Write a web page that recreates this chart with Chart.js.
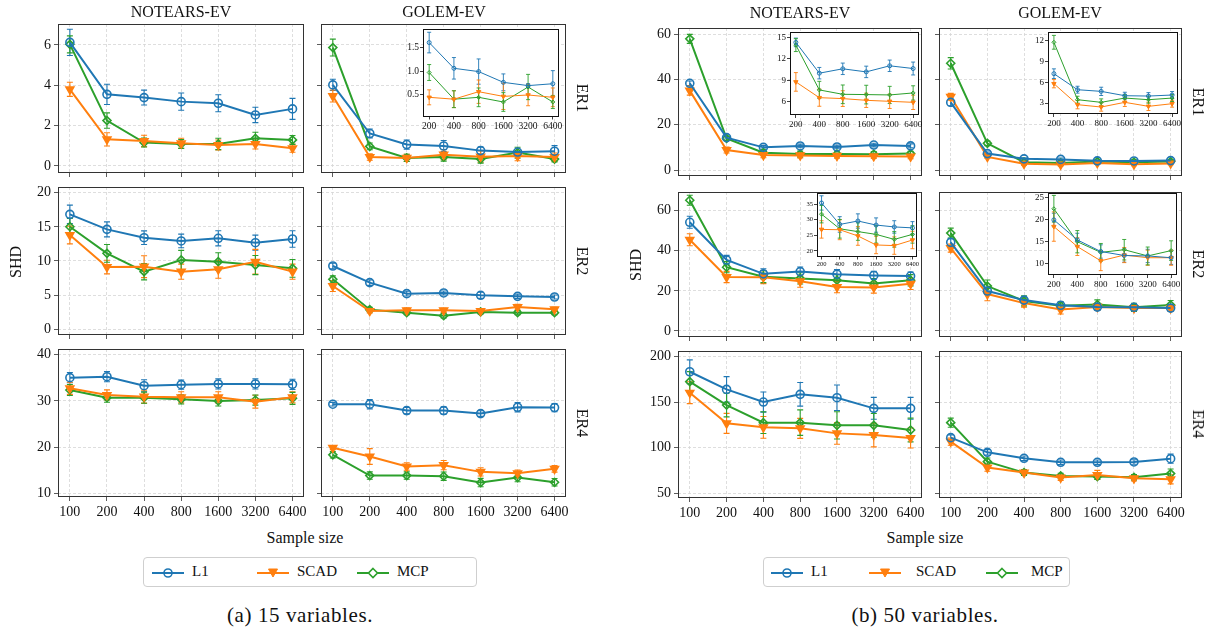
<!DOCTYPE html>
<html>
<head>
<meta charset="utf-8">
<script src="https://cdn.jsdelivr.net/npm/chart.js@4.4.1/dist/chart.umd.min.js"></script>
<style>
  body { margin: 0; background: #fff; width: 1215px; height: 630px; position: relative; overflow: hidden; font-family: "Liberation Serif", "DejaVu Serif", serif; color: #111; }
  canvas { position: absolute; }
  .t { position: absolute; white-space: nowrap; transform: translate(-50%, -50%); font-size: 16px; }
  .leg { position: absolute; border: 1px solid #cfcfcf; border-radius: 4px; height: 30px; box-sizing: border-box; }
  .leg span { position: absolute; top: 5px; font-size: 15px; }
  .leg svg { position: absolute; top: 8px; }
</style>
</head>
<body>
<script>
const sizes = ['100', '200', '400', '800', '1600', '3200', '6400'];
const methods = ['L1', 'SCAD', 'MCP'];
const colors = ['#1f77b4', '#ff7f0e', '#2ca02c'];

// y tick values per row
const yTicksA = [[0, 2, 4, 6], [0, 5, 10, 15, 20], [10, 20, 30, 40]];
const yTicksB = [[0, 20, 40, 60], [0, 20, 40, 60], [50, 100, 150, 200]];
const insetTicks_a_gl_er1 = [0.5, 1.0, 1.5];
const insetTicks_b_nt_er1 = [6, 9, 12, 15];
const insetTicks_b_gl_er1 = [3, 6, 9, 12];
const insetTicks_b_nt_er2 = [20, 25, 30, 35];
const insetTicks_b_gl_er2 = [10, 15, 20, 25];

// (a) 15 variables -- means and error bar half-lengths
const a_nt_er1_l1 = [6.13, 3.55, 3.39, 3.19, 3.11, 2.53, 2.83];
const a_nt_er1_l1_sd = [0.65, 0.5, 0.37, 0.43, 0.42, 0.38, 0.52];
const a_nt_er1_scad = [3.80, 1.32, 1.24, 1.12, 1.04, 1.09, 0.88];
const a_nt_er1_scad_sd = [0.35, 0.33, 0.28, 0.25, 0.25, 0.25, 0.2];
const a_nt_er1_mcp = [6.03, 2.25, 1.16, 1.09, 1.09, 1.37, 1.29];
const a_nt_er1_mcp_sd = [0.42, 0.38, 0.22, 0.22, 0.28, 0.3, 0.22];

const a_gl_er1_l1 = [4.02, 1.61, 1.06, 0.99, 0.76, 0.69, 0.73];
const a_gl_er1_l1_sd = [0.28, 0.22, 0.23, 0.27, 0.18, 0.04, 0.28];
const a_gl_er1_scad = [3.47, 0.44, 0.40, 0.56, 0.46, 0.49, 0.44];
const a_gl_er1_scad_sd = [0.3, 0.16, 0.18, 0.25, 0.28, 0.23, 0.2];
const a_gl_er1_mcp = [5.87, 0.97, 0.40, 0.44, 0.34, 0.66, 0.34];
const a_gl_er1_mcp_sd = [0.42, 0.17, 0.18, 0.2, 0.2, 0.27, 0.14];

const a_nt_er2_l1 = [16.83, 14.63, 13.41, 12.93, 13.32, 12.68, 13.22];
const a_nt_er2_l1_sd = [1.35, 1.1, 1.0, 1.0, 1.1, 1.1, 1.2];
const a_nt_er2_scad = [13.80, 9.12, 9.17, 8.44, 8.78, 9.90, 8.44];
const a_nt_er2_scad_sd = [1.3, 1.0, 1.6, 1.1, 1.3, 1.8, 1.1];
const a_nt_er2_mcp = [15.02, 11.12, 8.44, 10.15, 9.90, 9.41, 8.93];
const a_nt_er2_mcp_sd = [1.2, 1.3, 1.2, 1.4, 1.3, 1.4, 1.3];

const a_gl_er2_l1 = [9.27, 6.83, 5.22, 5.32, 4.98, 4.83, 4.73];
const a_gl_er2_l1_sd = [0.4, 0.4, 0.35, 0.3, 0.45, 0.3, 0.3];
const a_gl_er2_scad = [6.34, 2.68, 2.78, 2.78, 2.68, 3.27, 2.93];
const a_gl_er2_scad_sd = [0.8, 0.3, 0.35, 0.3, 0.3, 0.4, 0.3];
const a_gl_er2_mcp = [7.32, 2.88, 2.44, 2.0, 2.54, 2.44, 2.44];
const a_gl_er2_mcp_sd = [0.5, 0.35, 0.3, 0.35, 0.3, 0.3, 0.3];

const a_nt_er4_l1 = [35.03, 35.24, 33.29, 33.51, 33.66, 33.66, 33.58];
const a_nt_er4_l1_sd = [1.1, 1.1, 1.3, 1.0, 1.1, 1.1, 1.1];
const a_nt_er4_scad = [32.72, 31.28, 30.92, 30.77, 30.77, 29.83, 30.77];
const a_nt_er4_scad_sd = [1.3, 1.1, 1.4, 1.2, 1.2, 1.4, 1.2];
const a_nt_er4_mcp = [32.36, 30.70, 30.70, 30.34, 29.98, 30.19, 30.55];
const a_nt_er4_mcp_sd = [1.2, 1.0, 1.2, 1.0, 1.1, 1.1, 1.3];

const a_gl_er4_l1 = [29.28, 29.28, 27.9, 27.9, 27.25, 28.62, 28.55];
const a_gl_er4_l1_sd = [0.4, 1.0, 0.7, 0.8, 0.6, 1.0, 0.9];
const a_gl_er4_scad = [19.86, 17.97, 15.8, 16.09, 14.64, 14.35, 15.29];
const a_gl_er4_scad_sd = [0.4, 1.7, 0.8, 1.0, 0.9, 0.7, 0.7];
const a_gl_er4_mcp = [18.33, 13.84, 13.84, 13.7, 12.32, 13.41, 12.39];
const a_gl_er4_mcp_sd = [0.7, 0.8, 0.8, 0.9, 0.9, 0.9, 0.8];

// (b) 50 variables
const b_nt_er1_l1 = [38.35, 14.32, 10.02, 10.63, 10.2, 11.05, 10.67];
const b_nt_er1_l1_sd = [1.0, 0.6, 0.8, 0.8, 0.8, 0.8, 0.9];
const b_nt_er1_scad = [35.1, 8.8, 6.6, 6.47, 6.23, 6.09, 5.95];
const b_nt_er1_scad_sd = [2.0, 1.3, 1.2, 1.1, 1.0, 1.0, 1.0];
const b_nt_er1_mcp = [58.0, 13.94, 7.68, 7.07, 7.03, 6.98, 7.26];
const b_nt_er1_mcp_sd = [2.0, 0.9, 1.2, 1.3, 1.3, 1.2, 1.0];

const b_gl_er1_l1 = [29.9, 7.25, 4.93, 4.69, 4.06, 4.01, 4.16];
const b_gl_er1_l1_sd = [1.5, 0.7, 0.5, 0.6, 0.5, 0.5, 0.5];
const b_gl_er1_scad = [32.4, 5.8, 2.76, 2.42, 3.1, 2.52, 2.9];
const b_gl_er1_scad_sd = [1.5, 0.6, 0.6, 0.6, 0.6, 0.6, 0.5];
const b_gl_er1_mcp = [47.2, 11.8, 3.48, 3.1, 3.72, 3.48, 3.72];
const b_gl_er1_mcp_sd = [2.5, 1.0, 0.5, 0.5, 0.5, 0.5, 0.5];

const b_nt_er2_l1 = [54.2, 35.4, 28.5, 29.6, 28.3, 27.7, 27.4];
const b_nt_er2_l1_sd = [3.0, 2.3, 2.5, 2.3, 2.3, 2.0, 2.0];
const b_nt_er2_scad = [45.5, 26.9, 26.8, 24.8, 21.9, 21.7, 23.5];
const b_nt_er2_scad_sd = [3.0, 2.8, 3.2, 3.0, 2.8, 2.8, 2.8];
const b_nt_er2_mcp = [65.2, 31.8, 27.1, 26.2, 25.3, 23.7, 25.3];
const b_nt_er2_mcp_sd = [2.5, 2.8, 3.0, 2.8, 2.8, 2.5, 2.8];

const b_gl_er2_l1 = [44.2, 19.9, 15.4, 12.8, 11.9, 11.8, 11.4];
const b_gl_er2_l1_sd = [2.0, 1.5, 1.5, 1.5, 1.5, 1.5, 1.5];
const b_gl_er2_scad = [41.3, 18.4, 13.9, 10.7, 12.0, 11.4, 11.4];
const b_gl_er2_scad_sd = [2.0, 3.3, 2.0, 2.2, 1.7, 1.7, 1.7];
const b_gl_er2_mcp = [48.8, 22.4, 15.0, 12.6, 13.2, 11.8, 13.0];
const b_gl_er2_mcp_sd = [2.5, 3.0, 2.5, 2.0, 2.3, 2.0, 2.2];

const b_nt_er4_l1 = [183.5, 164.1, 150.2, 158.7, 155.0, 143.3, 143.3];
const b_nt_er4_l1_sd = [13, 14, 11, 13, 14, 12, 12];
const b_nt_er4_scad = [160.5, 126.8, 122.4, 121.3, 115.8, 114.0, 110.7];
const b_nt_er4_scad_sd = [12, 11, 12, 11, 12, 13, 11];
const b_nt_er4_mcp = [172.6, 146.9, 127.6, 127.6, 124.6, 124.6, 119.5];
const b_nt_er4_mcp_sd = [11, 13, 12, 14, 15, 13, 13];

const b_gl_er4_l1 = [111.1, 95.0, 88.4, 84.0, 84.0, 84.4, 88.0];
const b_gl_er4_l1_sd = [3, 3, 2.5, 2.5, 2.5, 2.5, 5];
const b_gl_er4_scad = [106.7, 78.2, 72.7, 67.2, 70.1, 66.4, 65.3];
const b_gl_er4_scad_sd = [4, 4, 3, 3, 5, 3, 5];
const b_gl_er4_mcp = [127.6, 84.7, 72.7, 69.0, 68.3, 67.5, 71.6];
const b_gl_er4_mcp_sd = [5, 4, 3, 3, 3, 3, 5];

const marks = [
  { style: 'circle', rot: 0, fill: false },
  { style: 'triangle', rot: 180, fill: true },
  { style: 'rectRot', rot: 0, fill: false },
];

// vertical error bars with caps, drawn through the chart's scales
const errorBars = {
  id: 'errorBars',
  beforeDatasetsDraw(chart) {
    const { ctx, scales: { x, y } } = chart;
    chart.data.datasets.forEach(ds => {
      ctx.save();
      ctx.strokeStyle = ds.borderColor;
      ctx.lineWidth = ds.errWidth;
      ds.data.forEach((p, j) => {
        const px = x.getPixelForValue(p.x);
        const lo = y.getPixelForValue(p.y - ds.err[j]);
        const hi = y.getPixelForValue(p.y + ds.err[j]);
        const c = ds.cap;
        ctx.beginPath();
        ctx.moveTo(px, lo); ctx.lineTo(px, hi);
        ctx.moveTo(px - c, lo); ctx.lineTo(px + c, lo);
        ctx.moveTo(px - c, hi); ctx.lineTo(px + c, hi);
        ctx.stroke();
      });
      ctx.restore();
    });
  }
};

const frame = {
  id: 'frame',
  beforeDraw(chart, args, opts) {
    if (!opts.fill) return;
    const a = chart.chartArea;
    chart.ctx.save();
    chart.ctx.fillStyle = '#fff';
    chart.ctx.fillRect(a.left, a.top, a.right - a.left, a.bottom - a.top);
    chart.ctx.restore();
  },
  afterDraw(chart, args, opts) {
    const a = chart.chartArea, ctx = chart.ctx;
    ctx.save();
    ctx.strokeStyle = opts.color;
    ctx.lineWidth = 1;
    ctx.strokeRect(Math.round(a.left) + 0.5, Math.round(a.top) + 0.5, Math.round(a.right - a.left) - 1, Math.round(a.bottom - a.top) - 1);
    ctx.restore();
  }
};

function makeSets(trio, inset) {
  return trio.map(([v, sd], k) => {
    const vals = inset ? v.slice(1) : v;
    const errs = inset ? sd.slice(1) : sd;
    return {
      label: methods[k],
      data: vals.map((y, i) => ({ x: i, y })),
      err: errs,
      errWidth: inset ? 0.9 : 1.1,
      cap: inset ? 2 : 3,
      borderColor: colors[k],
      borderWidth: inset ? 1 : 2,
      pointStyle: marks[k].style,
      pointRotation: marks[k].rot,
      pointRadius: inset ? (k === 1 ? 2.5 : 2) : (k === 1 ? 4.5 : 4),
      pointBorderWidth: inset ? 1 : 1.6,
      pointBorderColor: colors[k],
      pointBackgroundColor: marks[k].fill ? colors[k] : 'rgba(255,255,255,0)',
      tension: 0,
      fill: false,
    };
  });
}

function addChart(p) {
  const W = p.box[2] - p.box[0], H = p.box[3] - p.box[1];
  const cv = document.createElement('canvas');
  cv.width = W + p.padL + p.padR;
  cv.height = H + p.padT + p.padB;
  cv.style.left = (p.box[0] - p.padL) + 'px';
  cv.style.top = (p.box[1] - p.padT) + 'px';
  cv.style.width = cv.width + 'px';
  cv.style.height = cv.height + 'px';
  document.body.appendChild(cv);

  const inset = !!p.inset;
  const xLabels = inset ? sizes.slice(1) : sizes;
  const xVals = xLabels.map((_, i) => i);
  const font = { family: '"Liberation Serif", serif', size: p.fontSize };
  const gridCol = inset ? 'rgba(0,0,0,0)' : '#d6d6d6';
  const edge = inset ? '#111' : '#333';

  new Chart(cv, {
    type: 'line',
    data: { datasets: makeSets(p.sets, inset) },
    options: {
      responsive: false,
      animation: false,
      devicePixelRatio: 1,
      layout: { padding: { left: 0, right: p.padR, top: p.padT, bottom: 0 }, autoPadding: false },
      plugins: { legend: { display: false }, tooltip: { enabled: false }, frame: { color: edge, fill: inset } },
      scales: {
        x: {
          type: 'linear',
          min: inset ? -0.25 : -0.32,
          max: inset ? 5.25 : 6.31,
          afterBuildTicks: s => { s.ticks = xVals.map(v => ({ value: v })); },
          afterFit: s => { s.height = p.padB; },
          ticks: { display: p.xLabels, callback: v => xLabels[v], font, color: '#111', padding: inset ? 1 : 3, maxRotation: 0, autoSkip: false },
          grid: { color: gridCol, lineWidth: 0.8, tickLength: inset ? 3 : 4, tickColor: edge, drawOnChartArea: !inset },
          border: { display: false, dash: [3, 2] },
        },
        y: {
          type: 'linear',
          min: p.yr[0],
          max: p.yr[1],
          afterBuildTicks: s => { s.ticks = p.yt.map(v => ({ value: v })); },
          afterFit: s => { s.width = p.padL; },
          ticks: { display: p.yLabels, callback: v => p.fmt ? v.toFixed(1) : String(v), font, color: '#111', padding: inset ? 1 : 3 },
          grid: { color: gridCol, lineWidth: 0.8, tickLength: inset ? 3 : 4, tickColor: edge, drawOnChartArea: !inset },
          border: { display: false, dash: [3, 2] },
        },
      },
    },
    plugins: [errorBars, frame],
  });
}

const trio = (l1, l1sd, sc, scsd, mc, mcsd) => [[l1, l1sd], [sc, scsd], [mc, mcsd]];

const colA = [[58, 304], [321, 566]];
const colB = [[678, 922], [939, 1182]];
const rowA = [[24, 173], [187, 335], [349, 497]];
const rowB = [[28, 176], [192, 337], [351, 498]];
const rangeA = [[-0.35, 7.04], [-0.83, 20.83], [9.2, 41.23]];
const rangeB = [[-2.65, 62.8], [-3, 69.3], [44.8, 206.3]];

const gridA = [
  [trio(a_nt_er1_l1, a_nt_er1_l1_sd, a_nt_er1_scad, a_nt_er1_scad_sd, a_nt_er1_mcp, a_nt_er1_mcp_sd),
   trio(a_gl_er1_l1, a_gl_er1_l1_sd, a_gl_er1_scad, a_gl_er1_scad_sd, a_gl_er1_mcp, a_gl_er1_mcp_sd)],
  [trio(a_nt_er2_l1, a_nt_er2_l1_sd, a_nt_er2_scad, a_nt_er2_scad_sd, a_nt_er2_mcp, a_nt_er2_mcp_sd),
   trio(a_gl_er2_l1, a_gl_er2_l1_sd, a_gl_er2_scad, a_gl_er2_scad_sd, a_gl_er2_mcp, a_gl_er2_mcp_sd)],
  [trio(a_nt_er4_l1, a_nt_er4_l1_sd, a_nt_er4_scad, a_nt_er4_scad_sd, a_nt_er4_mcp, a_nt_er4_mcp_sd),
   trio(a_gl_er4_l1, a_gl_er4_l1_sd, a_gl_er4_scad, a_gl_er4_scad_sd, a_gl_er4_mcp, a_gl_er4_mcp_sd)],
];
const gridB = [
  [trio(b_nt_er1_l1, b_nt_er1_l1_sd, b_nt_er1_scad, b_nt_er1_scad_sd, b_nt_er1_mcp, b_nt_er1_mcp_sd),
   trio(b_gl_er1_l1, b_gl_er1_l1_sd, b_gl_er1_scad, b_gl_er1_scad_sd, b_gl_er1_mcp, b_gl_er1_mcp_sd)],
  [trio(b_nt_er2_l1, b_nt_er2_l1_sd, b_nt_er2_scad, b_nt_er2_scad_sd, b_nt_er2_mcp, b_nt_er2_mcp_sd),
   trio(b_gl_er2_l1, b_gl_er2_l1_sd, b_gl_er2_scad, b_gl_er2_scad_sd, b_gl_er2_mcp, b_gl_er2_mcp_sd)],
  [trio(b_nt_er4_l1, b_nt_er4_l1_sd, b_nt_er4_scad, b_nt_er4_scad_sd, b_nt_er4_mcp, b_nt_er4_mcp_sd),
   trio(b_gl_er4_l1, b_gl_er4_l1_sd, b_gl_er4_scad, b_gl_er4_scad_sd, b_gl_er4_mcp, b_gl_er4_mcp_sd)],
];

[[gridA, colA, rowA, rangeA, yTicksA], [gridB, colB, rowB, rangeB, yTicksB]].forEach(([g, cols, rows, ranges, ticks]) => {
  rows.forEach((r, i) => {
    cols.forEach((c, j) => {
      addChart({
        box: [c[0], r[0], c[1], r[1]],
        yr: ranges[i], yt: ticks[i], sets: g[i][j],
        xLabels: i === 2, yLabels: j === 0,
        padL: j === 0 ? 40 : 8, padR: 14, padT: 14, padB: i === 2 ? 26 : 14,
        fontSize: 14,
      });
    });
  });
});

// insets
const insets = [
  { box: [423, 29, 559, 117], yr: [0.03, 1.9], yt: insetTicks_a_gl_er1, sets: gridA[0][1], fmt: true, fontSize: 9.5, padL: 26 },
  { box: [790, 32, 919, 115], yr: [4.18, 15.77], yt: insetTicks_b_nt_er1, sets: gridB[0][0], fontSize: 9, padL: 18 },
  { box: [1048, 32, 1178, 114], yr: [1.41, 13.29], yt: insetTicks_b_gl_er1, sets: gridB[0][1], fontSize: 9, padL: 18 },
  { box: [817, 193, 917, 257], yr: [18.2, 38.6], yt: insetTicks_b_nt_er2, sets: gridB[1][0], fontSize: 6.5, padL: 14 },
  { box: [1048, 193, 1177, 275], yr: [7.52, 25.94], yt: insetTicks_b_gl_er2, sets: gridB[1][1], fontSize: 9, padL: 18 },
];
insets.forEach(p => addChart(Object.assign({ inset: true, xLabels: true, yLabels: true, padR: 10, padT: 8, padB: p.fontSize + 6 }, p)));
</script>

<div class="t" style="left:181px;top:12px">NOTEARS-EV</div>
<div class="t" style="left:444px;top:12px">GOLEM-EV</div>
<div class="t" style="left:800px;top:13px">NOTEARS-EV</div>
<div class="t" style="left:1060px;top:13px">GOLEM-EV</div>

<div class="t" style="left:582px;top:98px;transform:translate(-50%,-50%) rotate(90deg)">ER1</div>
<div class="t" style="left:582px;top:261px;transform:translate(-50%,-50%) rotate(90deg)">ER2</div>
<div class="t" style="left:582px;top:423px;transform:translate(-50%,-50%) rotate(90deg)">ER4</div>
<div class="t" style="left:1198px;top:102px;transform:translate(-50%,-50%) rotate(90deg)">ER1</div>
<div class="t" style="left:1198px;top:264px;transform:translate(-50%,-50%) rotate(90deg)">ER2</div>
<div class="t" style="left:1198px;top:424px;transform:translate(-50%,-50%) rotate(90deg)">ER4</div>

<div class="t" style="left:16px;top:262px;transform:translate(-50%,-50%) rotate(-90deg)">SHD</div>
<div class="t" style="left:636px;top:265px;transform:translate(-50%,-50%) rotate(-90deg)">SHD</div>

<div class="t" style="left:305px;top:538px">Sample size</div>
<div class="t" style="left:925px;top:538px">Sample size</div>

<div class="leg" style="left:143px;top:557px;width:334px">
  <svg width="32" height="14" style="left:8px"><line x1="0" y1="7" x2="32" y2="7" stroke="#1f77b4" stroke-width="2"/><circle cx="16" cy="7" r="4" fill="none" stroke="#1f77b4" stroke-width="1.6"/></svg>
  <span style="left:48px">L1</span>
  <svg width="32" height="14" style="left:113px"><line x1="0" y1="7" x2="32" y2="7" stroke="#ff7f0e" stroke-width="2"/><polygon points="11.5,3 20.5,3 16,11" fill="#ff7f0e" stroke="#ff7f0e"/></svg>
  <span style="left:153px">SCAD</span>
  <svg width="32" height="14" style="left:213px"><line x1="0" y1="7" x2="32" y2="7" stroke="#2ca02c" stroke-width="2"/><polygon points="16,2.5 20.5,7 16,11.5 11.5,7" fill="#fff" stroke="#2ca02c" stroke-width="1.6"/></svg>
  <span style="left:253px">MCP</span>
</div>
<div class="leg" style="left:763px;top:557px;width:307px">
  <svg width="32" height="14" style="left:7px"><line x1="0" y1="7" x2="32" y2="7" stroke="#1f77b4" stroke-width="2"/><circle cx="16" cy="7" r="4" fill="none" stroke="#1f77b4" stroke-width="1.6"/></svg>
  <span style="left:47px">L1</span>
  <svg width="32" height="14" style="left:105px"><line x1="0" y1="7" x2="32" y2="7" stroke="#ff7f0e" stroke-width="2"/><polygon points="11.5,3 20.5,3 16,11" fill="#ff7f0e" stroke="#ff7f0e"/></svg>
  <span style="left:152px">SCAD</span>
  <svg width="32" height="14" style="left:222px"><line x1="0" y1="7" x2="32" y2="7" stroke="#2ca02c" stroke-width="2"/><polygon points="16,2.5 20.5,7 16,11.5 11.5,7" fill="#fff" stroke="#2ca02c" stroke-width="1.6"/></svg>
  <span style="left:267px">MCP</span>
</div>

<div class="t" style="left:300px;top:615px;font-size:21px;letter-spacing:0.6px">(a) 15 variables.</div>
<div class="t" style="left:925px;top:615px;font-size:21px;letter-spacing:0.6px">(b) 50 variables.</div>
</body>
</html>
